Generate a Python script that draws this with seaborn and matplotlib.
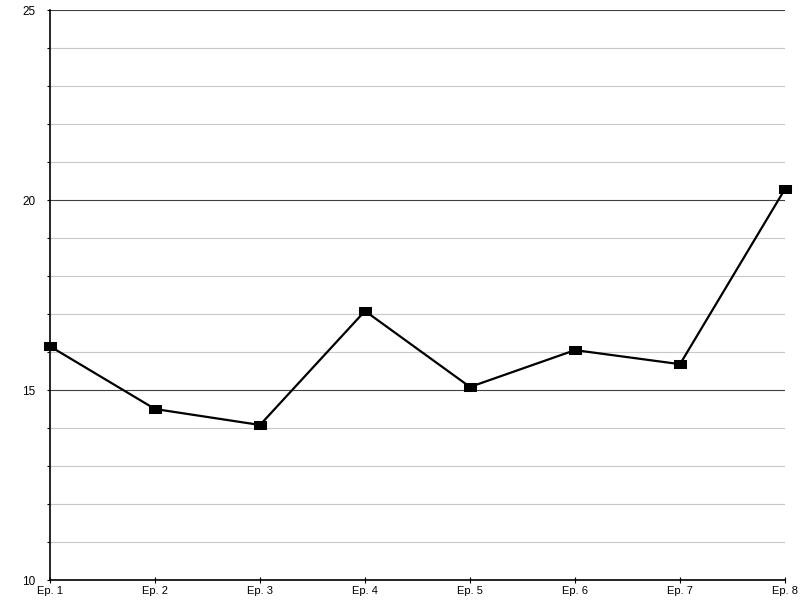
import matplotlib
matplotlib.use("Agg")
import matplotlib.pyplot as plt
import seaborn as sns
import pandas as pd
from matplotlib.ticker import MultipleLocator

episodes = ["Ep. 1", "Ep. 2", "Ep. 3", "Ep. 4", "Ep. 5", "Ep. 6", "Ep. 7", "Ep. 8"]
values = [16.15, 14.5, 14.08, 17.08, 15.08, 16.05, 15.68, 20.29]

sns.set_style("white")
plt.rcParams['font.family'] = ['Liberation Sans', 'DejaVu Sans']

df = pd.DataFrame({"episode": episodes, "value": values, "idx": range(len(episodes))})

fig = plt.figure(figsize=(8, 6), dpi=100)
ax = fig.add_axes([0.0625, 0.0333, 0.91875, 0.95])

rect = [(-1, -0.65), (1, -0.65), (1, 0.65), (-1, 0.65), (-1, -0.65)]
sns.lineplot(data=df, x="idx", y="value", ax=ax, color="black", linewidth=1.6,
             marker=rect, markersize=9, markeredgecolor="black", markerfacecolor="black",
             zorder=5, clip_on=False)

ax.set_xlim(0, len(episodes) - 1)
ax.set_ylim(10, 25)
ax.set_xticks(range(len(episodes)))
ax.set_xticklabels(episodes, fontsize=8, color='black')
ax.yaxis.set_major_locator(MultipleLocator(5))
ax.yaxis.set_minor_locator(MultipleLocator(1))
ax.tick_params(axis='y', which='major', length=2.5, width=0.8, direction='out', labelsize=8.5,
               left=True, pad=8, color='black', labelcolor='black')
ax.tick_params(axis='y', which='minor', length=2.5, width=0.8, direction='out', left=True, color='black')
ax.tick_params(axis='x', which='major', length=4, width=0.8, direction='inout', labelsize=8,
               bottom=True, pad=2, color='black', labelcolor='black')
ax.grid(which='major', axis='y', color='#404040', linewidth=0.8)
ax.grid(which='minor', axis='y', color='#c8c8c8', linewidth=0.8)
ax.set_axisbelow(True)
ax.spines['right'].set_visible(False)
ax.spines['top'].set_visible(False)
ax.spines['left'].set_color('black')
ax.spines['bottom'].set_color('black')
ax.spines['left'].set_linewidth(1.2)
ax.spines['bottom'].set_linewidth(1.2)
ax.set_xlabel("")
ax.set_ylabel("")

fig.savefig("out.png", dpi=100)
